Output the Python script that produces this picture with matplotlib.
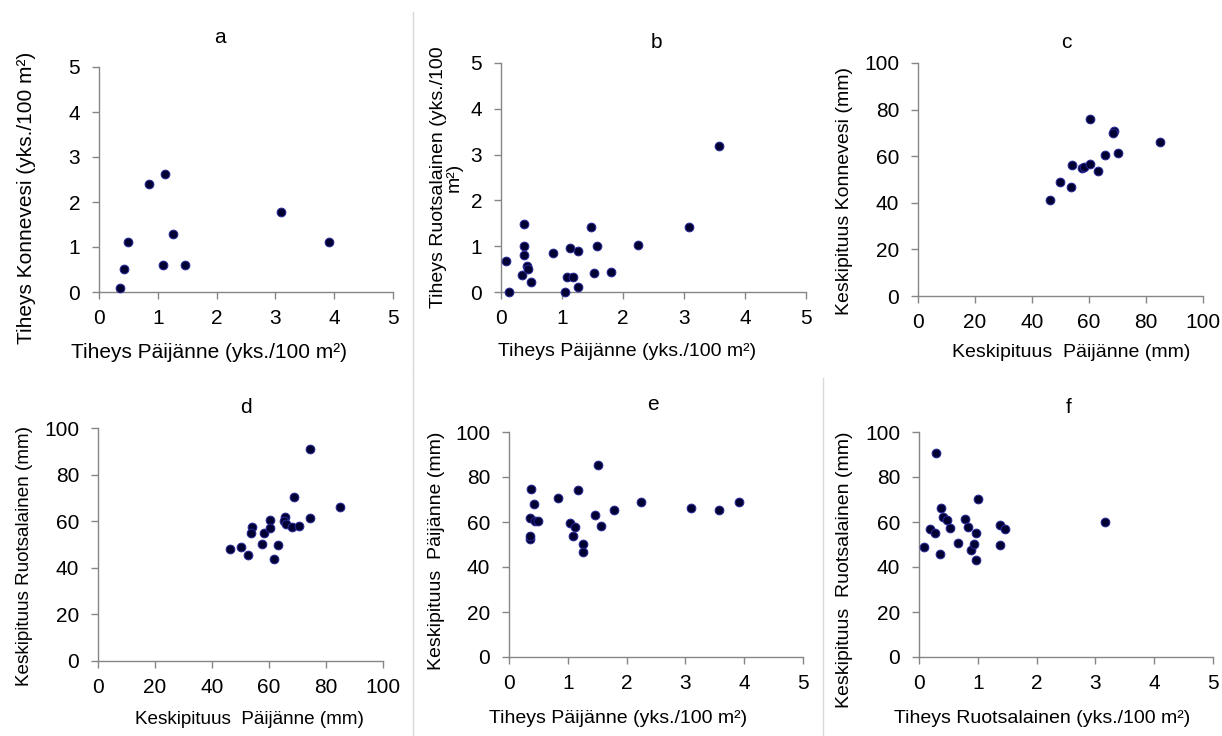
import matplotlib.pyplot as plt
import matplotlib.lines as mlines

plt.rcParams["font.family"] = ["Liberation Sans", "DejaVu Sans"]

# a: tiheys Päijänne vs Konnevesi
a_x = [0.36, 0.43, 0.49, 0.85, 1.13, 1.26, 1.08, 1.47, 3.09, 3.92]
a_y = [0.09, 0.51, 1.11, 2.39, 2.62, 1.28, 0.61, 0.61, 1.77, 1.11]

# b: tiheys Päijänne vs Ruotsalainen
b_x = [0.09, 0.13, 0.38, 0.38, 0.38, 0.34, 0.43, 0.44, 0.50, 0.85, 1.05, 1.09,
       1.18, 1.13, 1.26, 1.27, 1.48, 1.52, 1.57, 1.80, 2.24, 3.09, 3.57]
b_y = [0.67, 0.01, 1.49, 1.00, 0.80, 0.37, 0.56, 0.50, 0.22, 0.86, 0.01, 0.32,
       0.33, 0.96, 0.90, 0.11, 1.41, 0.41, 1.00, 0.43, 1.03, 1.41, 3.19]

# c: keskipituus Päijänne vs Konnevesi
c_x = [46.2, 49.9, 53.7, 53.9, 57.5, 58.2, 60.4, 60.4, 63.0, 65.6, 68.7, 68.3, 70.3, 84.9]
c_y = [41.2, 48.9, 46.8, 56.4, 55.1, 55.5, 56.5, 75.9, 53.5, 60.7, 71.0, 69.9, 61.3, 66.1]

# d: keskipituus Päijänne vs Ruotsalainen
d_x = [46.4, 50.1, 52.8, 54.0, 53.7, 57.7, 58.3, 60.4, 60.5, 61.6,
       63.1, 65.6, 65.4, 66.0, 68.0, 68.6, 70.6, 74.4, 74.4, 84.9]
d_y = [48.0, 49.0, 45.3, 57.3, 55.0, 50.3, 55.0, 60.6, 57.2, 43.6,
       49.7, 62.0, 60.3, 58.9, 57.3, 70.2, 57.9, 61.3, 90.8, 66.2]

# e: tiheys vs keskipituus Päijänne
e_x = [0.35, 0.36, 0.38, 0.36, 0.42, 0.44, 0.50, 0.84, 1.03, 1.08, 1.13,
       1.17, 1.26, 1.26, 1.47, 1.51, 1.57, 1.79, 2.24, 3.09, 3.57, 3.92]
e_y = [52.6, 53.9, 74.7, 61.6, 68.1, 60.6, 60.6, 70.5, 59.7, 53.9, 57.8,
       74.4, 50.2, 46.7, 63.1, 85.2, 58.2, 65.5, 68.9, 66.2, 65.5, 68.9]

# f: tiheys vs keskipituus Ruotsalainen
f_x = [0.09, 0.18, 0.28, 0.29, 0.35, 0.38, 0.41, 0.48, 0.53, 0.66, 0.78,
       0.84, 0.88, 0.94, 0.97, 0.97, 1.00, 1.38, 1.38, 1.46, 3.17]
f_y = [49.0, 57.1, 55.2, 90.5, 45.6, 66.3, 62.1, 60.7, 57.4, 50.6, 61.3,
       57.8, 47.6, 50.3, 55.2, 43.3, 70.1, 58.6, 49.9, 56.9, 60.2]

tiheys_ticks = [0, 1, 2, 3, 4, 5]
pituus_ticks = [0, 20, 40, 60, 80, 100]

W, H = 1222, 736
fig = plt.figure(figsize=(W / 100, H / 100), dpi=100)


def make_ax(left, top, right, bottom):
    return fig.add_axes([left / W, 1 - bottom / H, (right - left) / W, (bottom - top) / H])


panels = [
    # data, box (px), title pos, xlabel, xlabel pos, ylabel, ylabel pos, ticks, label size
    (a_x, a_y, (99, 67, 393, 292), "a", (0.41, 1.13),
     "Tiheys Päijänne (yks./100 m²)", (0.374, -0.226),
     "Tiheys Konnevesi (yks./100 m²)", (-0.214, 0.42), tiheys_ticks, tiheys_ticks, 15),
    (b_x, b_y, (501, 63, 806, 292), "b", (0.51, 1.09),
     "Tiheys Päijänne (yks./100 m²)", (0.413, -0.222),
     "Tiheys Ruotsalainen (yks./100\nm²)", (-0.125, 0.50), tiheys_ticks, tiheys_ticks, 14),
    (c_x, c_y, (918, 63, 1203, 296), "c", (0.52, 1.09),
     "Keskipituus  Päijänne (mm)", (0.537, -0.207),
     "Keskipituus Konnevesi (mm)", (-0.228, 0.45), pituus_ticks, pituus_ticks, 14),
    (d_x, d_y, (98, 428, 383, 661), "d", (0.52, 1.09),
     "Keskipituus  Päijänne (mm)", (0.533, -0.213),
     "Keskipituus Ruotsalainen (mm)", (-0.228, 0.45), pituus_ticks, pituus_ticks, 13.6),
    (e_x, e_y, (509, 432, 803, 657), "e", (0.49, 1.12),
     "Tiheys Päijänne (yks./100 m²)", (0.371, -0.235),
     "Keskipituus  Päijänne (mm)", (-0.218, 0.47), tiheys_ticks, pituus_ticks, 14),
    (f_x, f_y, (919, 432, 1213, 657), "f", (0.51, 1.11),
     "Tiheys Ruotsalainen (yks./100 m²)", (0.418, -0.235),
     "Keskipituus  Ruotsalainen (mm)", (-0.224, 0.39), tiheys_ticks, pituus_ticks, 14),
]

for (xs, ys, box, title, tpos, xlab, xpos, ylab, ypos, xt, yt, lsize) in panels:
    ax = make_ax(*box)
    ax.scatter(xs, ys, s=40, facecolor="#000033", edgecolor="#2a2a9a",
               linewidths=0.7, zorder=3, clip_on=False)
    ax.set_xlim(xt[0], xt[-1])
    ax.set_ylim(yt[0], yt[-1])
    ax.set_xticks(xt)
    ax.set_yticks(yt)
    for side in ["top", "right"]:
        ax.spines[side].set_visible(False)
    for side in ["left", "bottom"]:
        ax.spines[side].set_color("#868686")
        ax.spines[side].set_linewidth(1.0)
    ax.tick_params(direction="out", length=5, width=1.0, color="#868686",
                   labelsize=15, labelcolor="black")
    ax.tick_params(axis="x", pad=7)
    ax.tick_params(axis="y", pad=8.5)
    ax.text(tpos[0], tpos[1], title, transform=ax.transAxes,
            ha="center", va="center", fontsize=15)
    ax.set_xlabel(xlab, fontsize=lsize)
    ax.xaxis.set_label_coords(*xpos)
    ax.set_ylabel(ylab, fontsize=lsize, linespacing=0.95)
    ax.yaxis.set_label_coords(*ypos)

# light separator lines between panels
sep = [((413, 413), (12, 370)), ((413, 413), (370, 736)), ((823, 823), (378, 736))]
for xx, yy in sep:
    fig.add_artist(mlines.Line2D([x / W for x in xx], [1 - y / H for y in yy],
                                 color="#d9d9d9", linewidth=1.0))

fig.savefig("out.png", dpi=100)
